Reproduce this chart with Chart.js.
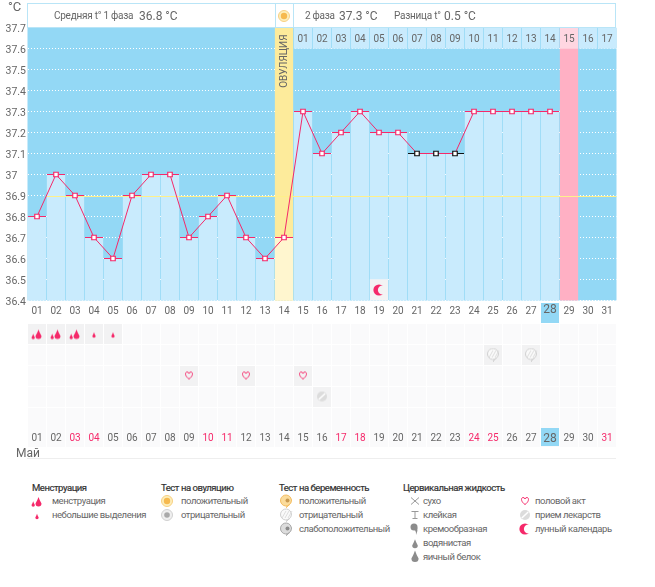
<!DOCTYPE html>
<html>
<head>
<meta charset="utf-8">
<script src="https://cdn.jsdelivr.net/npm/chart.js@4"></script>
<style>
    html, body { margin: 0; padding: 0; background: #fff; }
    body { width: 655px; height: 587px; position: relative; overflow: hidden; font-family: Roboto, sans-serif; color: #666; }
    canvas { position: absolute; }
    .unit { position: absolute; left: 8px; top: 0; font-size: 13px; line-height: 14px; }
    .head { position: absolute; left: 27px; top: 3px; width: 587px; height: 23px; border: 1px solid #b9e5f7; background: #fff; }
    .sep { position: absolute; top: 0; height: 23px; width: 17px; border-left: 1px solid #b9e5f7; border-right: 1px solid #b9e5f7; left: 247px; }
    .head span { position: absolute; top: 0; line-height: 24px; font-size: 10px; letter-spacing: -.25px; white-space: nowrap; }
    .head span.val { font-size: 12px; letter-spacing: 0; }
    .month { position: absolute; left: 16px; top: 446px; font-size: 12px; line-height: 14px; }
    .rule { position: absolute; left: 27px; top: 458px; width: 589px; height: 1px; background: #eeeeee; }
    .col { position: absolute; top: 481px; font-size: 9.5px; letter-spacing: -.45px; line-height: 13.9px; white-space: nowrap; }
    .col h4 { margin: 0; height: 13px; font-size: 9.5px; font-weight: normal; color: #333; line-height: 13px; -webkit-text-stroke: .2px #333; }
    .item { position: relative; padding-left: 20px; height: 13.9px; }
    .item canvas { top: 0; }
</style>
</head>
<body>
<canvas id="tempChart" width="655" height="320" style="left:0;top:0"></canvas>
<canvas id="rowChart" width="655" height="150" style="left:0;top:300px"></canvas>
<div class="unit">°C</div>
<div class="head">
    <span style="left:26px">Средняя t° 1 фаза</span>
    <span class="val" style="left:111px">36.8 °C</span>
    <div class="sep" id="sunBox"></div>
    <span style="left:277px">2 фаза</span>
    <span class="val" style="left:311px">37.3 °C</span>
    <span style="left:366px">Разница t°</span>
    <span class="val" style="left:416px">0.5 °C</span>
</div>
<div class="month">Май</div>
<div class="rule"></div>
<div id="legend"></div>

<script>
const days = ['01','02','03','04','05','06','07','08','09','10','11','12','13','14','15','16','17','18','19','20','21','22','23','24','25','26','27','28','29','30','31'];
const temps = [36.8,37,36.9,36.7,36.6,36.9,37,37,36.7,36.8,36.9,36.7,36.6,36.7,37.3,37.1,37.2,37.3,37.2,37.2,37.1,37.1,37.1,37.3,37.3,37.3,37.3,37.3];
const excludedDays = ['21','22','23'];
const phaseDays = ['01','02','03','04','05','06','07','08','09','10','11','12','13','14','15','16','17'];
const phaseStart = 14;
const ovulationDay = '14';
const expectedDay = '29';
const todayDay = '28';
const moonDay = '19';
const coverLine = 36.9;
const coverFrom = 1;
const redDays = ['03','04','10','11','17','18','24','25','31'];

const rows = ['flow','test','sex','pill','extra'];
const heavyFlowDays = ['01','02','03'];
const lightFlowDays = ['04','05'];
const negTestDays = ['25','27'];
const sexDays = ['09','12','15'];
const pillDays = ['16'];

const legendTitles = ['Менструация','Тест на овуляцию','Тест на беременность','Цервикальная жидкость',''];
const legendNames = [
    ['менструация','небольшие выделения'],
    ['положительный','отрицательный'],
    ['положительный','отрицательный','слабоположительный'],
    ['сухо','клейкая','кремообразная','водянистая','яичный белок'],
    ['половой акт','прием лекарств','лунный календарь']
];
const legendIcons = [
    ['heavy','light'],
    ['sun','ovuNeg'],
    ['pregPos','pregNeg','pregWeak'],
    ['dry','sticky','creamy','watery','eggwhite'],
    ['heart','pill','moon']
];
const legendLeft = [32,161,279,403,515];
const legendIconCenter = [5,6,7,12,10];

const PINK = '#f5296a';
const BG_BLUE = '#93d8f5';
const BAR_BLUE = '#c9ebfd';
const FONT = 'Roboto, sans-serif';

Chart.defaults.font.family = FONT;
Chart.defaults.color = '#666';

function drop(c, x, y, r, color) {
    c.fillStyle = color;
    c.beginPath();
    c.moveTo(x, y - r * 2.2);
    c.quadraticCurveTo(x + r * 0.4, y - r, x + r, y);
    c.arc(x, y, r, 0, Math.PI);
    c.quadraticCurveTo(x - r * 0.4, y - r, x, y - r * 2.2);
    c.fill();
}

function bubble(c, fill, stroke) {
    c.fillStyle = fill;
    c.strokeStyle = stroke;
    c.beginPath();
    c.arc(7, 6.5, 5.5, 0.9, Math.PI * 2 + 0.5);
    c.lineTo(7, 13.5);
    c.closePath();
    c.fill();
    c.stroke();
}

// small pictograms, used both for points and for the legend
function makeIcon(name) {
    const cv = document.createElement('canvas');
    cv.width = 14;
    cv.height = 14;
    const c = cv.getContext('2d');
    if (name === 'heavy') {
        drop(c, 8.5, 9.5, 3, PINK);
        drop(c, 3.2, 11, 1.7, PINK);
    } else if (name === 'light') {
        drop(c, 7, 9.5, 1.7, PINK);
    } else if (name === 'sun') {
        c.fillStyle = '#fdeebb';
        c.strokeStyle = '#f7cf80';
        c.beginPath(); c.arc(7, 7, 5.5, 0, Math.PI * 2); c.fill(); c.stroke();
        c.fillStyle = '#f6b94e';
        c.beginPath(); c.arc(7, 7, 3.2, 0, Math.PI * 2); c.fill();
    } else if (name === 'ovuNeg') {
        c.fillStyle = '#efefef';
        c.strokeStyle = '#d0d0d0';
        c.beginPath(); c.arc(7, 7, 5.5, 0, Math.PI * 2); c.fill(); c.stroke();
        c.fillStyle = '#a9a9a9';
        c.beginPath(); c.arc(7, 7, 2.8, 0, Math.PI * 2); c.fill();
    } else if (name === 'pregPos') {
        bubble(c, '#fbdc9c', '#f3bd62');
        c.fillStyle = '#c99a50';
        c.beginPath(); c.arc(8.5, 6.5, 2, 0, Math.PI * 2); c.fill();
    } else if (name === 'pregNeg') {
        bubble(c, '#fafafa', '#cfcfcf');
        c.strokeStyle = '#dedede';
        for (let i = 0; i < 3; i++) {
            c.beginPath(); c.moveTo(3 + i * 3, 10); c.lineTo(7 + i * 3, 3); c.stroke();
        }
    } else if (name === 'pregWeak') {
        bubble(c, '#dcdcdc', '#a8a8a8');
        c.fillStyle = '#8a8a8a';
        c.beginPath(); c.arc(8.5, 6.5, 2, 0, Math.PI * 2); c.fill();
    } else if (name === 'dry') {
        c.strokeStyle = '#999';
        c.beginPath(); c.moveTo(3, 3.5); c.lineTo(11, 10.5); c.moveTo(11, 3.5); c.lineTo(3, 10.5); c.stroke();
    } else if (name === 'sticky') {
        c.strokeStyle = '#999';
        c.beginPath(); c.moveTo(3.5, 3.5); c.lineTo(10.5, 3.5); c.moveTo(7, 3.5); c.lineTo(7, 10.5); c.moveTo(4.5, 10.5); c.lineTo(9.5, 10.5); c.stroke();
    } else if (name === 'creamy') {
        c.fillStyle = '#8c8c8c';
        c.beginPath(); c.arc(6, 5, 3.5, 0, Math.PI * 2); c.fill();
        c.beginPath(); c.moveTo(6, 2); c.quadraticCurveTo(12, 5, 8, 13); c.quadraticCurveTo(8.5, 7, 4, 7); c.fill();
    } else if (name === 'watery') {
        drop(c, 7, 9.5, 2.8, '#8c8c8c');
    } else if (name === 'eggwhite') {
        drop(c, 7, 8.5, 3.6, '#8c8c8c');
    } else if (name === 'heart') {
        c.strokeStyle = PINK;
        c.beginPath();
        c.moveTo(7, 10.5);
        c.bezierCurveTo(2.5, 7.5, 3, 3.5, 5, 3.5);
        c.quadraticCurveTo(6.5, 3.5, 7, 5);
        c.quadraticCurveTo(7.5, 3.5, 9, 3.5);
        c.bezierCurveTo(11, 3.5, 11.5, 7.5, 7, 10.5);
        c.stroke();
    } else if (name === 'pill') {
        c.fillStyle = '#dcdcdc';
        c.beginPath(); c.arc(7, 7, 5, 0, Math.PI * 2); c.fill();
        c.strokeStyle = '#fff';
        c.lineWidth = 1.5;
        c.beginPath(); c.moveTo(3.8, 10); c.lineTo(10.2, 4); c.stroke();
    } else if (name === 'moon') {
        c.fillStyle = PINK;
        c.beginPath(); c.arc(7, 7, 5.6, 0, Math.PI * 2); c.fill();
        c.globalCompositeOperation = 'destination-out';
        c.beginPath(); c.arc(10.5, 7, 4.6, 0, Math.PI * 2); c.fill();
        c.globalCompositeOperation = 'source-over';
    }
    return cv;
}

// background, cover line, phase numbers and the ovulation caption
const tempDecor = {
    id: 'tempDecor',
    beforeDraw(chart) {
        const a = chart.chartArea;
        const c = chart.ctx;
        c.fillStyle = BG_BLUE;
        c.fillRect(a.left, a.top, a.width, a.height);
    },
    beforeDatasetDraw(chart, args) {
        if (args.index !== 1) return;
        const c = chart.ctx;
        const x = chart.scales.x;
        const y = Math.round(chart.scales.y.getPixelForValue(coverLine)) + 0.5;
        c.save();
        c.strokeStyle = '#fff08a';
        c.lineWidth = 1;
        c.beginPath();
        c.moveTo(chart.chartArea.left + (x.width / days.length) * coverFrom, y);
        c.lineTo(chart.chartArea.right, y);
        c.stroke();
        c.restore();
    },
    afterDatasetsDraw(chart) {
        const c = chart.ctx;
        const x = chart.scales.x;
        const y = chart.scales.y;
        c.save();
        c.fillStyle = '#666';
        c.font = '10px ' + FONT;
        c.textAlign = 'center';
        c.textBaseline = 'middle';
        phaseDays.forEach(function(label, i) {
            c.fillText(label, x.getPixelForValue(phaseStart + i), y.getPixelForValue(37.65) + 1);
        });
        c.translate(x.getPixelForValue(days.indexOf(ovulationDay)) + 0.5, y.getPixelForValue(37.54));
        c.rotate(-Math.PI / 2);
        c.font = '10px ' + FONT;
        c.fillText('ОВУЛЯЦИЯ', 0, 0);
        c.restore();
    }
};

function initTempChart() {
    const values = days.map(function(d, i) { return temps[i] === undefined ? null : temps[i]; });
    const tickColors = days.map(function(d) { return excludedDays.includes(d) ? '#111' : PINK; });

    new Chart(document.getElementById('tempChart'), {
        type: 'bar',
        plugins: [tempDecor],
        data: {
            labels: days,
            datasets: [
                {
                    type: 'line',
                    data: values,
                    order: 1,
                    borderColor: PINK,
                    borderWidth: 1,
                    tension: 0,
                    pointStyle: 'rect',
                    pointRadius: 3.2,
                    pointBorderWidth: 1.2,
                    pointBackgroundColor: '#fff',
                    pointBorderColor: tickColors
                },
                {
                    type: 'line',
                    data: values,
                    order: 2,
                    showLine: false,
                    pointStyle: 'line',
                    pointRadius: 9,
                    pointBorderWidth: 1,
                    pointBorderColor: tickColors
                },
                {
                    data: days.map(function(d) { return d === moonDay ? [36.4, 36.5] : null; }),
                    order: 3,
                    backgroundColor: '#f3f3f4'
                },
                {
                    data: values,
                    order: 4,
                    backgroundColor: days.map(function(d) { return d === ovulationDay ? '#fff6cf' : BAR_BLUE; })
                },
                {
                    data: days.map(function(d) { return d === ovulationDay || d === expectedDay ? 37.7 : null; }),
                    order: 5,
                    backgroundColor: days.map(function(d) { return d === ovulationDay ? '#fdeb9b' : '#ffb0c4'; })
                },
                {
                    data: days.map(function(d, i) { return i >= phaseStart ? [37.6, 37.7] : null; }),
                    order: 3,
                    backgroundColor: days.map(function(d) { return d === expectedDay ? '#ffd6e1' : BAR_BLUE; })
                },
                {
                    type: 'line',
                    data: days.map(function(d) { return d === moonDay ? 36.45 : null; }),
                    order: 2,
                    showLine: false,
                    pointStyle: makeIcon('moon'),
                    pointRadius: 7
                }
            ]
        },
        options: {
            responsive: false,
            animation: false,
            devicePixelRatio: 1,
            layout: { padding: { left: 5.5, right: 38.5, top: 27.5, bottom: 19.5 } },
            plugins: { legend: { display: false }, tooltip: { enabled: false } },
            datasets: { bar: { grouped: false, barThickness: 17.6 } },
            scales: {
                x: { display: false, offset: true, grid: { display: false } },
                y: {
                    min: 36.4,
                    max: 37.7,
                    afterFit: function(scale) { scale.width = 22; },
                    border: { display: false, dash: [1, 2] },
                    grid: { color: '#fff', lineWidth: 1, drawTicks: false },
                    ticks: {
                        stepSize: 0.1,
                        padding: 0,
                        crossAlign: 'far',
                        labelOffset: 2,
                        color: '#666',
                        font: { size: 10.5 },
                        callback: function(v) { return String(Number(v.toFixed(1))); }
                    }
                }
            }
        }
    });
}

// grey cells of the marks table and the highlighted current day, painted under the axis labels
const rowDecor = {
    id: 'rowDecor',
    beforeDraw(chart) {
        const c = chart.ctx;
        const a = chart.chartArea;
        const x = chart.scales.x;
        const y = chart.scales.y;
        const step = a.width / days.length;
        const rowStep = a.height / rows.length;
        const marked = {
            flow: heavyFlowDays.concat(lightFlowDays),
            test: negTestDays,
            sex: sexDays,
            pill: pillDays,
            extra: []
        };
        days.forEach(function(d, i) {
            const px = x.getPixelForValue(i) - 9;
            rows.forEach(function(r, j) {
                c.fillStyle = marked[r].includes(d) ? '#f2f2f3' : '#fafafb';
                c.fillRect(px, y.getPixelForValue(j) - rowStep / 2 + 1, step - 1, rowStep - 1);
            });
            c.fillStyle = '#fafafb';
            c.fillRect(px, a.bottom, step - 1, 19);
            if (d === todayDay) {
                c.fillStyle = BG_BLUE;
                c.fillRect(px, a.top - 20, step - 1, 20);
                c.fillRect(px, a.bottom, step - 1, 18);
            }
        });
    }
};

function markSet(list, row, icon) {
    return {
        type: 'line',
        showLine: false,
        data: list.map(function(d) { return { x: d, y: row }; }),
        pointStyle: makeIcon(icon),
        pointRadius: 7
    };
}

function axisFont(ctx) {
    return { size: days[ctx.index] === todayDay ? 12 : 10 };
}

function initRowChart() {
    new Chart(document.getElementById('rowChart'), {
        type: 'line',
        plugins: [rowDecor],
        data: {
            labels: days,
            datasets: [
                markSet(heavyFlowDays, 'flow', 'heavy'),
                markSet(lightFlowDays, 'flow', 'light'),
                markSet(negTestDays, 'test', 'pregNeg'),
                markSet(sexDays, 'sex', 'heart'),
                markSet(pillDays, 'pill', 'pill')
            ]
        },
        options: {
            responsive: false,
            animation: false,
            devicePixelRatio: 1,
            layout: { padding: { left: 27.5, right: 38.5, top: 0, bottom: 0 } },
            plugins: { legend: { display: false }, tooltip: { enabled: false } },
            scales: {
                x: {
                    position: 'bottom',
                    type: 'category',
                    offset: true,
                    afterFit: function(scale) { scale.height = 22; },
                    border: { display: false },
                    grid: { display: false, drawTicks: false },
                    ticks: {
                        autoSkip: false,
                        maxRotation: 0,
                        padding: 4,
                        font: axisFont,
                        color: function(ctx) { return redDays.includes(days[ctx.index]) ? PINK : '#666'; }
                    }
                },
                xTop: {
                    position: 'top',
                    type: 'category',
                    labels: days,
                    offset: true,
                    afterFit: function(scale) { scale.height = 23; },
                    border: { display: false },
                    grid: { display: false, drawTicks: false },
                    ticks: { autoSkip: false, maxRotation: 0, padding: 6, font: axisFont, color: '#666' }
                },
                y: { type: 'category', labels: rows, offset: true, display: false }
            }
        }
    });
}

function buildLegend() {
    const box = document.getElementById('legend');
    legendTitles.forEach(function(title, i) {
        const col = document.createElement('div');
        col.className = 'col';
        col.style.left = legendLeft[i] + 'px';
        const head = document.createElement('h4');
        head.textContent = title;
        col.appendChild(head);
        legendNames[i].forEach(function(name, j) {
            const item = document.createElement('div');
            item.className = 'item';
            const icon = makeIcon(legendIcons[i][j]);
            icon.style.left = (legendIconCenter[i] - 7) + 'px';
            item.appendChild(icon);
            item.appendChild(document.createTextNode(name));
            col.appendChild(item);
        });
        box.appendChild(col);
    });
    const sun = makeIcon('sun');
    sun.style.left = '1px';
    sun.style.top = '5px';
    document.getElementById('sunBox').appendChild(sun);
}

initTempChart();
initRowChart();
buildLegend();
</script>
</body>
</html>
